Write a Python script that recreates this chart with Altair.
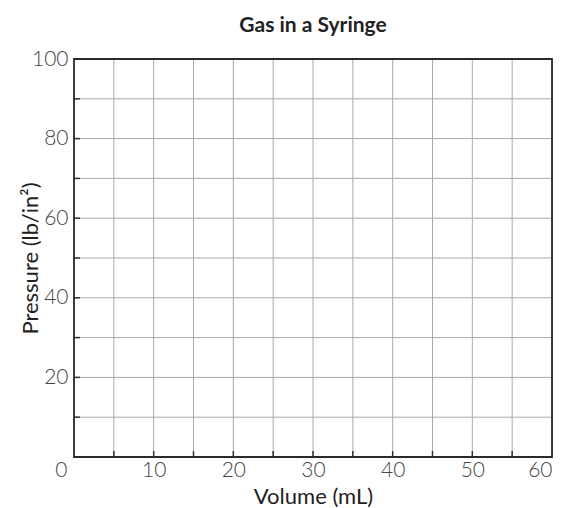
import altair as alt
import pandas as pd

x_labels = [0, 10, 20, 30, 40, 50, 60]
y_labels = [20, 40, 60, 80, 100]
x_grid = [5, 10, 15, 20, 25, 30, 35, 40, 45, 50, 55]
y_grid = [10, 20, 30, 40, 50, 60, 70, 80, 90]
x_domain = [0, 60]
y_domain = [0, 100]

W, H = 478, 398
FONT = "Lato"

xs = alt.Scale(domain=x_domain, nice=False)
ys = alt.Scale(domain=y_domain, nice=False)

xdf = pd.DataFrame({"v": x_grid})
ydf = pd.DataFrame({"v": y_grid})
bdf = pd.DataFrame({"x0": [x_domain[0]], "x1": [x_domain[1]],
                    "y0": [y_domain[0]], "y1": [y_domain[1]]})

x_axis = alt.Axis(
    values=x_labels, grid=False, ticks=False, domain=False,
    labelFontSize=21, labelFont=FONT, labelColor="#444", labelFontWeight=300,
    labelPadding=2, labelFlush=False,
    labelAlign={"condition": {"test": "datum.value === 0 || datum.value === 60", "value": "right"},
                "value": "center"},
    labelOffset={"condition": {"test": "datum.value === 0", "value": -7}, "value": 0},
    title="Volume (mL)", titleFontSize=22, titleFont=FONT, titleFontWeight="normal",
    titleColor="#222", titleY=39, titleBaseline="middle",
)
y_axis = alt.Axis(
    values=y_labels, grid=False, ticks=False, domain=False,
    labelFontSize=21, labelFont=FONT, labelColor="#444", labelFontWeight=300,
    labelPadding=6, labelFlush=False,
    title="Pressure (lb/in²)", titleFontSize=22, titleFont=FONT, titleFontWeight="normal",
    titleColor="#222", titleX=-44, titleY=H / 2, titleBaseline="middle",
)

base_x = alt.Chart(xdf)
base_y = alt.Chart(ydf)

vgrid = base_x.mark_rule(color="#aaaaaa", strokeWidth=1).encode(
    x=alt.X("v:Q", scale=xs, axis=x_axis),
    y=alt.value(0), y2=alt.value(H),
)
hgrid = base_y.mark_rule(color="#aaaaaa", strokeWidth=1).encode(
    y=alt.Y("v:Q", scale=ys, axis=y_axis),
    x=alt.value(0), x2=alt.value(W),
)
xticks = base_x.mark_rule(color="#333333", strokeWidth=1.5).encode(
    x=alt.X("v:Q", scale=xs),
    y=alt.value(H), y2=alt.value(H - 6),
)
yticks = base_y.mark_rule(color="#333333", strokeWidth=1.5).encode(
    y=alt.Y("v:Q", scale=ys),
    x=alt.value(0), x2=alt.value(6),
)
border = alt.Chart(bdf).mark_rect(fill=None, fillOpacity=0, stroke="#2a2a2a", strokeWidth=1.8).encode(
    x=alt.X("x0:Q", scale=xs), x2="x1:Q",
    y=alt.Y("y0:Q", scale=ys), y2="y1:Q",
)

chart = alt.layer(vgrid, hgrid, xticks, yticks, border).properties(
    width=W, height=H,
    title=alt.TitleParams("Gas in a Syringe", fontSize=21, font=FONT, fontWeight="bold",
                          color="#222", anchor="middle", offset=12),
    autosize=alt.AutoSizeParams(type="none"),
    padding={"left": 66, "top": 51, "right": 5, "bottom": 50},
).configure_view(stroke=None).configure(background="white")

chart.save("out.html", embed_options={"renderer": "svg", "actions": False})
